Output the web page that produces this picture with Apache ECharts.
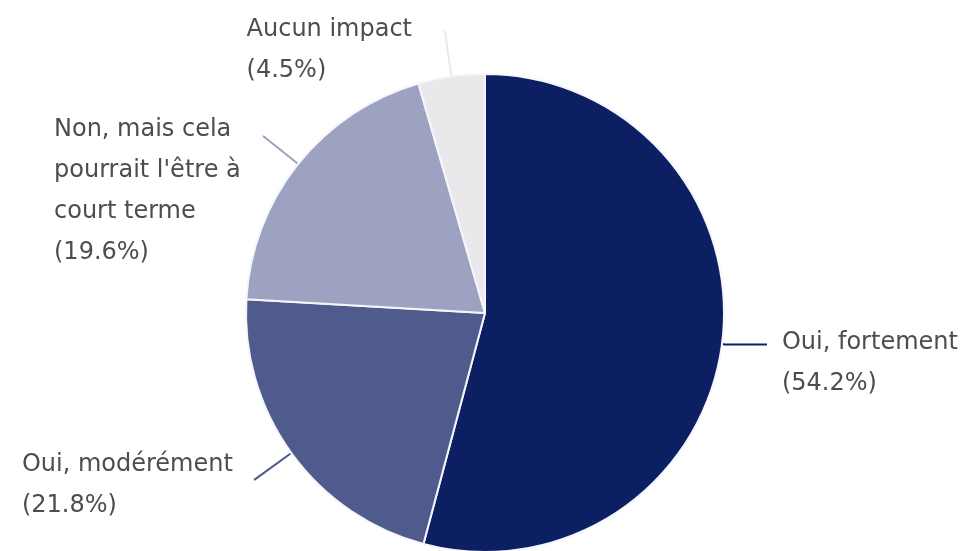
<!DOCTYPE html>
<html>
<head>
<meta charset="utf-8">
<script src="https://cdn.jsdelivr.net/npm/echarts@6/dist/echarts.min.js"></script>
<style>
  html, body { margin: 0; padding: 0; background: #fff; }
  #chart { width: 965px; height: 551px; }
</style>
</head>
<body>
<div id="chart"></div>
<script>
// réponses, dans l'ordre horaire depuis midi
const categories = ["Oui, fortement", "Oui, modérément", "Non, mais cela\npourrait l'être à\ncourt terme", "Aucun impact"];
const values = [54.2, 21.8, 19.6, 4.5];

const sliceColors = ["#0c1f62", "#4e5b8c", "#9ca2bf", "#e9e9eb"];
// réglages des étiquettes (trait + décalage du bloc texte)
const lineLength = [3, 45, 44, 45];
const lineLength2 = [42, 1, 1, 1];
const labelGap = [15, 21, 22, 32];
const labelPadTop = [37, 12, 110, 37];

const chart = echarts.init(document.getElementById("chart"));

chart.setOption({
  backgroundColor: "#ffffff",
  animation: false,
  series: [{
    type: "pie",
    center: [485, 313],
    radius: 239,
    startAngle: 90,
    clockwise: true,
    avoidLabelOverlap: false,
    itemStyle: { borderColor: "#f4f6fb", borderWidth: 2 },
    label: {
      show: true,
      formatter: (p) => `{a|${p.name}}\n{a|(${p.value}%)}`,
      color: "#4d4d4d",
      fontFamily: "DejaVu Sans",
      fontSize: 24,
      lineHeight: 41,
      rich: {
        a: { align: "left", color: "#4d4d4d", fontFamily: "DejaVu Sans", fontSize: 24, lineHeight: 41 }
      }
    },
    labelLine: { show: true, lineStyle: { width: 2 } },
    emphasis: { disabled: true },
    data: categories.map((name, i) => ({
      name,
      value: values[i],
      itemStyle: { color: sliceColors[i] },
      label: { distanceToLabelLine: labelGap[i], padding: [labelPadTop[i], 0, 0, 0] },
      labelLine: { length: lineLength[i], length2: lineLength2[i] }
    }))
  }]
});
</script>
</body>
</html>
